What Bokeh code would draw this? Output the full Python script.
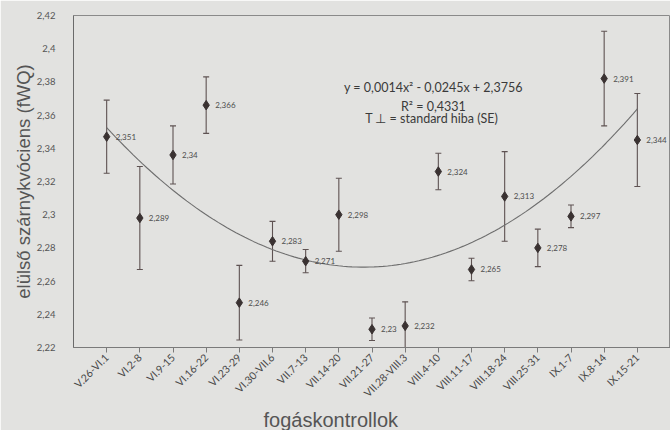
import numpy as np
from bokeh.plotting import figure
from bokeh.models import (ColumnDataSource, Range1d, FixedTicker, Whisker, TeeHead, Label, Title)
from bokeh.core.properties import value
from bokeh.embed import file_html
from bokeh.resources import INLINE

categories = ["V.26-VI.1", "VI.2-8", "VI.9-15", "VI.16-22", "VI.23-29", "VI.30-VII.6",
              "VII.7-13", "VII.14-20", "VII.21-27", "VII.28-VIII.3", "VIII.4-10",
              "VIII.11-17", "VIII.18-24", "VIII.25-31", "IX.1-7", "IX.8-14", "IX.15-21"]
means = [2.347, 2.298, 2.336, 2.366, 2.247, 2.284, 2.272, 2.300, 2.231, 2.233,
         2.326, 2.267, 2.311, 2.280, 2.299, 2.382, 2.345]
se = [0.022, 0.031, 0.0175, 0.017, 0.0225, 0.012, 0.007, 0.022, 0.0068, 0.0145,
      0.011, 0.0068, 0.027, 0.0113, 0.0068, 0.0285, 0.028]
point_labels = ["2,351", "2,289", "2,34", "2,366", "2,246", "2,283", "2,271", "2,298",
                "2,23", "2,232", "2,324", "2,265", "2,313", "2,278", "2,297", "2,391", "2,344"]
trend_coef = [0.0014, -0.0245, 2.3756]
y_ticks = [2.22, 2.24, 2.26, 2.28, 2.30, 2.32, 2.34, 2.36, 2.38, 2.40, 2.42]
y_tick_labels = ["2,22", "2,24", "2,26", "2,28", "2,3", "2,32", "2,34", "2,36", "2,38", "2,4", "2,42"]

BG = "#e2e2e0"
xs = list(range(1, len(categories) + 1))
src = ColumnDataSource(dict(
    x=xs, y=means,
    upper=[m + s for m, s in zip(means, se)],
    lower=[m - s for m, s in zip(means, se)],
    lab=point_labels,
))

p = figure(width=670, height=430, output_backend="svg", toolbar_location=None,
           x_range=Range1d(0, 18.0), y_range=Range1d(2.22, 2.42),
           min_border_left=73, min_border_right=0, min_border_top=15, min_border_bottom=83)
p.background_fill_color = BG
p.border_fill_color = BG
p.outline_line_color = "#8a8a8a"
p.outline_line_width = 1
p.grid.visible = False

# trend line
tx = np.linspace(1, 17, 120)
ty = np.polyval(trend_coef, tx)
p.line(tx, ty, line_color="#6e6e6e", line_width=1.1)

# error bars
w = Whisker(source=src, base="x", upper="upper", lower="lower",
            line_color="#5e5252", line_width=1.1,
            upper_head=TeeHead(size=6, line_color="#5e5252", line_width=1.1),
            lower_head=TeeHead(size=6, line_color="#5e5252", line_width=1.1))
p.add_layout(w)

p.scatter("x", "y", source=src, marker="diamond", size=9.5,
          fill_color="#3a3232", line_color="#3a3232")
p.text("x", "y", text="lab", source=src, x_offset=9, text_font=value("Lato"),
       text_font_size="8px", text_color="#4e4e4e", text_baseline="middle")

# axes
xa = p.xaxis[0]
xa.ticker = FixedTicker(ticks=xs)
xa.major_label_overrides = {i: c for i, c in zip(xs, categories)}
xa.major_label_orientation = np.pi / 4
xa.major_label_text_font = "Lato"
xa.major_label_text_font_size = "10.5px"
xa.major_label_text_color = "#484848"
xa.major_label_standoff = 3
xa.major_tick_in = 0
xa.major_tick_out = 5
xa.minor_tick_line_color = None
xa.axis_line_color = "#7a7a7a"
xa.major_tick_line_color = "#7a7a7a"

ya = p.yaxis[0]
ya.ticker = FixedTicker(ticks=y_ticks)
ya.major_label_overrides = {t: l for t, l in zip(y_ticks, y_tick_labels)}
ya.major_label_text_font = "Lato"
ya.major_label_text_font_size = "9.5px"
ya.major_label_text_color = "#555555"
ya.major_tick_line_color = None
ya.minor_tick_line_color = None
ya.major_label_standoff = 12
ya.axis_line_color = "#6a6a6a"

# equation text
eq_x = 10.85
for txt, yy in [("y = 0,0014x² - 0,0245x + 2,3756", 2.3766),
                ("R² = 0,4331", 2.3652),
                ("T  ⊥ = standard hiba (SE)", 2.3580)]:
    p.add_layout(Label(x=eq_x, y=yy, text=txt, text_align="center", text_baseline="middle",
                       text_font="Lato", text_font_size="12.5px", text_color="#3a3a3a"))

# axis titles
yt = Title(text="elülső szárnykvóciens (fWQ)", align="center", offset=22,
           text_font="Liberation Sans", text_font_size="18.5px", text_font_style="normal",
           text_color="#555555", standoff=0)
p.add_layout(yt, "left")
xt = Title(text="fogáskontrollok", align="left", offset=190,
           text_font="Liberation Sans", text_font_size="20px", text_font_style="normal",
           text_color="#555555", standoff=0)
p.add_layout(xt, "below")

open("out.html", "w").write(file_html(p, INLINE))
